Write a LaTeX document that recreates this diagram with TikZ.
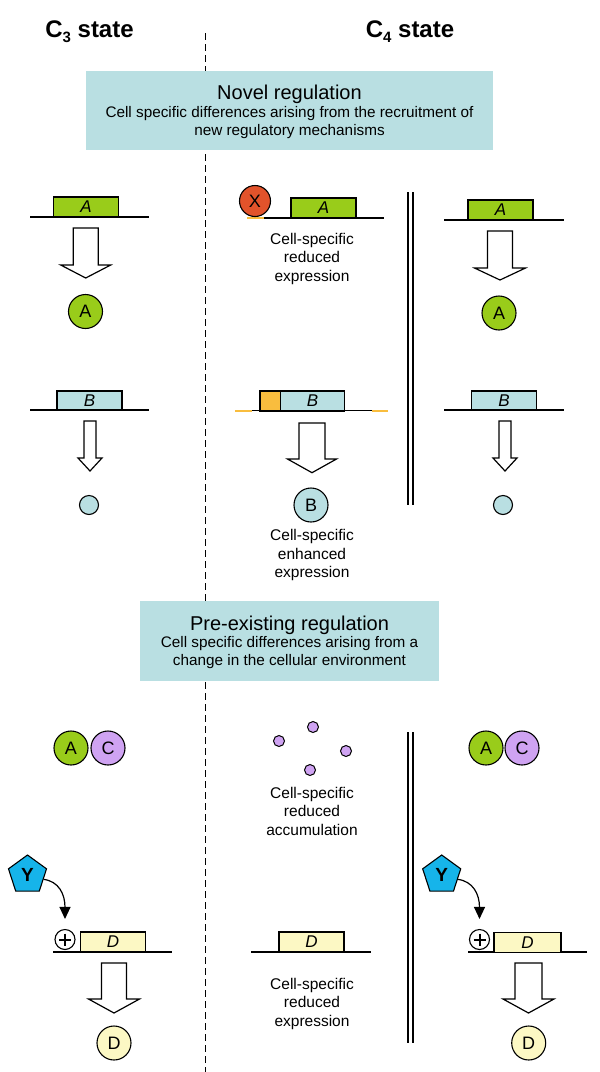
\documentclass[tikz,border=0pt]{standalone}
\usepackage{fontspec}
\setmainfont{Liberation Sans}
\usetikzlibrary{shapes.geometric,arrows.meta,calc,positioning}
\definecolor{leafgreen}{HTML}{99CC1A}
\definecolor{paleteal}{HTML}{B9DFE2}
\definecolor{lilac}{HTML}{CFA3F2}
\definecolor{paleyellow}{HTML}{FCF8C4}
\definecolor{amber}{HTML}{F9BD3E}
\definecolor{xred}{HTML}{E2532B}
\definecolor{ycyan}{HTML}{16B4EA}
\tikzstyle{gene} = [draw, line width=1.1pt, minimum width=65pt, minimum height=20pt, inner sep=0pt, outer sep=0pt, font=\fontsize{17}{17}\selectfont\itshape]
\tikzstyle{prot} = [circle, draw, line width=1.1pt, minimum size=34pt, inner sep=0pt, font=\fontsize{18}{18}\selectfont]
\tikzstyle{dna} = [line width=1.1pt]
\tikzstyle{note} = [align=center, font=\fontsize{15.5}{18.5}\selectfont]
\tikzstyle{banner} = [fill=paleteal, inner sep=0pt]
\tikzstyle{hollow} = [draw, line width=1.2pt, fill=white, line join=miter]
\tikzstyle{yarrow} = [line width=1.2pt, -{Triangle[length=12pt,width=11pt]}]
\tikzstyle{ypent} = [regular polygon, regular polygon sides=5, minimum size=40pt, inner sep=0pt, draw, line width=1.1pt, fill=ycyan, font=\fontsize{19}{19}\selectfont\bfseries]
\tikzstyle{activ} = [circle, draw, line width=1.1pt, fill=white, minimum size=20pt, inner sep=0pt]
% hollow block arrow: x, top, end of shaft, tip, half shaft, half head
\newcommand{\blockarrow}[6]{\draw[hollow] (#1-#5,#2) -- (#1+#5,#2) -- (#1+#5,#3) -- (#1+#6,#3) -- (#1,#4) -- (#1-#6,#3) -- (#1-#5,#3) -- cycle;}

\begin{document}
\begin{tikzpicture}[x=1pt,y=-1pt]
\useasboundingbox (0,0) rectangle (600,1072);
% headings
\node (c3) [anchor=base, font=\fontsize{24}{24}\selectfont\bfseries] at (89.5,37) {C\raisebox{-5pt}{\fontsize{15}{15}\selectfont 3} state};
\node (c4) [anchor=base, font=\fontsize{24}{24}\selectfont\bfseries] at (410,37) {C\raisebox{-5pt}{\fontsize{15}{15}\selectfont 4} state};
\draw [line width=1.3pt, dash pattern=on 7pt off 4pt] (205.5,33) -- (205.5,1072);

% novel regulation
\node (novel) [banner, minimum width=407pt, minimum height=79pt] at (289.5,110.5) {};
\node (novelt) [anchor=base, font=\fontsize{20}{24}\selectfont] at (289.5,99) {Novel regulation};
\node (novels) [align=center, font=\fontsize{15.3}{18}\selectfont] at (289.5,123) {Cell specific differences arising from the recruitment of\\new regulatory mechanisms};

% gene A
\draw[dna] (30,217) -- (149,217);
\node (gA1) [gene, fill=leafgreen] at (86,207) {A};
\blockarrow{85.7}{228}{265}{278}{12.5}{25}
\node (pA1) [prot, fill=leafgreen] at (85.5,311.5) {A};

\draw[amber, line width=1.5pt] (247,218) -- (264,218);
\draw[dna] (264,218) -- (384,218);
\node (gA2) [gene, fill=leafgreen] at (323.5,208) {A};
\node (rX) [circle, draw, line width=1.1pt, fill=xred, minimum size=31pt, inner sep=0pt, font=\fontsize{18}{18}\selectfont] at (255,201) {X};
\node (nA) [note] at (312,258.5) {Cell-specific\\reduced\\expression};

\draw[line width=1.3pt] (408,192) -- (408,505) (413,192) -- (413,505);

\draw[dna] (444,220) -- (564,220);
\node (gA3) [gene, fill=leafgreen] at (500.5,210) {A};
\blockarrow{500}{231}{268}{280}{12.5}{25.5}
\node (pA3) [prot, fill=leafgreen] at (499,313) {A};

% gene B
\draw[dna] (30,410) -- (149,410);
\node (gB1) [gene, fill=paleteal, minimum height=19pt] at (89.5,400.5) {B};
\blockarrow{90}{421}{458}{471}{6}{12}
\node (pB1) [prot, fill=paleteal, minimum size=19pt] at (89,505) {};

\draw[amber, line width=1.5pt] (235,411) -- (252,411) (371.5,411) -- (388,411);
\draw[dna] (252,410.5) -- (371.5,410.5);
\node (pr) [gene, fill=amber, minimum width=20.7pt] at (270.3,401) {};
\node (gB2) [gene, fill=paleteal, minimum width=63.6pt, right=0pt of pr] {B};
\blockarrow{312}{423}{459}{472.7}{13}{24.5}
\node (pB2) [prot, fill=paleteal] at (311,505) {B};
\node (nB) [note] at (312,555) {Cell-specific\\enhanced\\expression};

\draw[dna] (444,410) -- (564,410);
\node (gB3) [gene, fill=paleteal, minimum height=19pt] at (504,400.5) {B};
\blockarrow{505}{421}{458}{471}{6}{12}
\node (pB3) [prot, fill=paleteal, minimum size=19pt] at (503,505) {};

% pre-existing regulation
\node (pre) [banner, minimum width=299pt, minimum height=80pt] at (289.5,641) {};
\node (pret) [anchor=base, font=\fontsize{20}{24}\selectfont] at (289.5,630) {Pre-existing regulation};
\node (pres) [align=center, font=\fontsize{15.3}{18}\selectfont] at (289.5,653) {Cell specific differences arising from a\\change in the cellular environment};

% A and C
\node (pA4) [prot, fill=leafgreen] at (71,748) {A};
\node (pC4) [prot, fill=lilac] at (108,748) {C};
\foreach \p [count=\i] in {(313,727),(279,741),(346,751),(310,770)}
  \node (d\i) [circle, draw, line width=1pt, fill=lilac, minimum size=11pt, inner sep=0pt] at \p {};
\node (nC) [note] at (312,811) {Cell-specific\\reduced\\accumulation};
\node (pA6) [prot, fill=leafgreen] at (486,748) {A};
\node (pC6) [prot, fill=lilac] at (522,748) {C};

\draw[line width=1.3pt] (408,732) -- (408,1043) (413,732) -- (413,1043);

% gene D
\node (Y1) [ypent] at (27.5,875) {Y};
\node (p1) [activ] at (65,939.5) {};
\draw[dna] (53,952) -- (172,952);
\node (gD1) [gene, fill=paleyellow] at (113,942) {D};
\draw[yarrow] (Y1.-15) .. controls +(15,2) and +(0,-25) .. ($(p1.north)+(0,-10)$);
\blockarrow{114}{963}{999}{1013}{12.5}{25.5}
\node (pD1) [prot, fill=paleyellow] at (114,1043) {D};

\draw[dna] (251,952) -- (371,952);
\node (gD2) [gene, fill=paleyellow] at (311.5,942) {D};
\node (nD) [note] at (312,1003.5) {Cell-specific\\reduced\\expression};

\node (Y2) [ypent] at (441.7,875) {Y};
\node (p2) [activ] at (479.5,939.5) {};
\draw[dna] (468,952) -- (587,952);
\node (gD3) [gene, fill=paleyellow, minimum width=67pt] at (527.5,942.5) {D};
\draw[yarrow] (Y2.-15) .. controls +(15,2) and +(0,-25) .. ($(p2.north)+(0,-10)$);
\blockarrow{528.5}{963}{999}{1013}{13.5}{25.5}
\node (pD3) [prot, fill=paleyellow] at (528.7,1043) {D};

\foreach \q in {p1,p2}
  \draw[line width=2pt] ($(\q.center)+(-6,0)$) -- ($(\q.center)+(6,0)$) ($(\q.center)+(0,-6)$) -- ($(\q.center)+(0,6)$);
\end{tikzpicture}
\end{document}
